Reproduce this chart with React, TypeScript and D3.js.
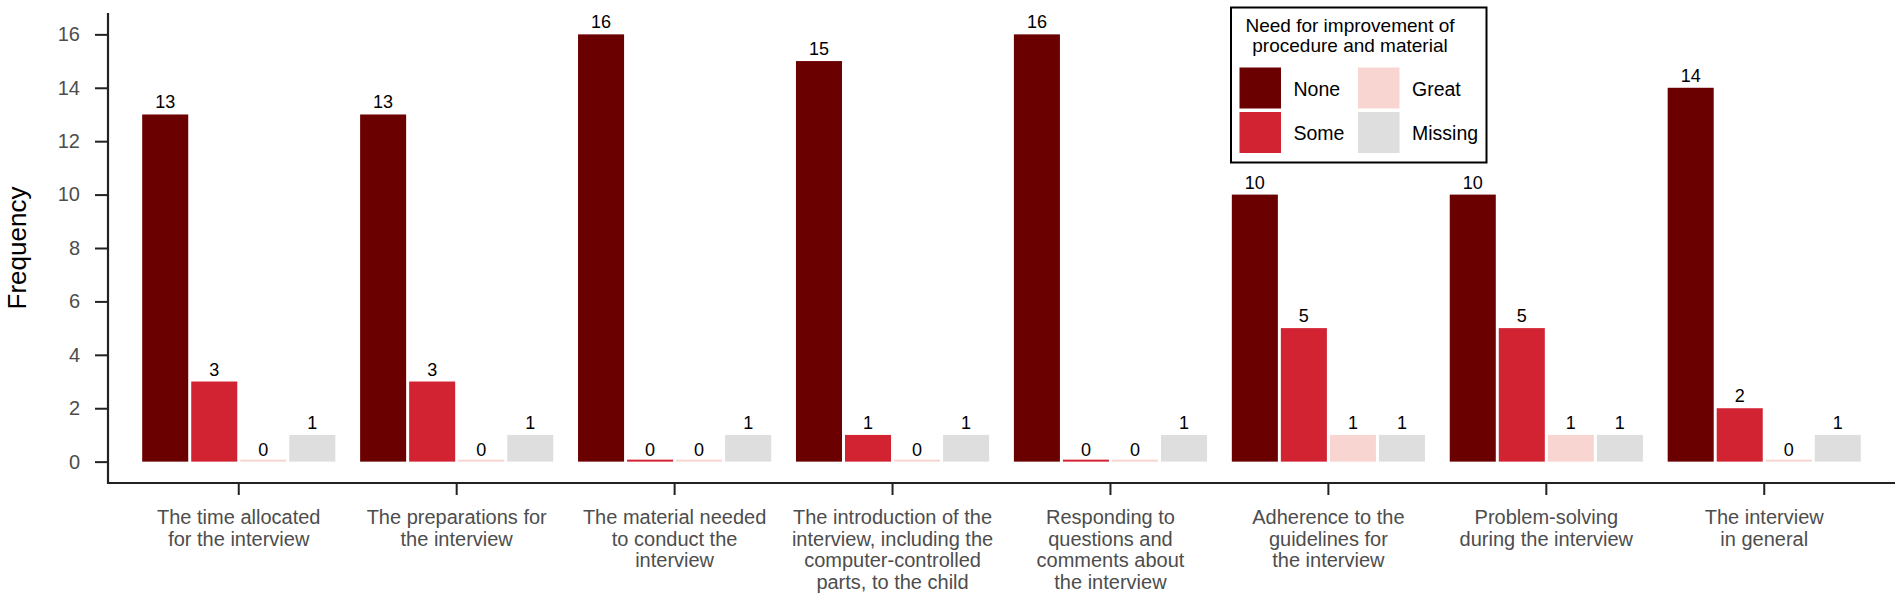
import React, { useEffect, useRef } from 'react';
import * as d3 from 'd3';

// categories (line-broken the way the figure shows them)
const categories = [
  ['The time allocated', 'for the interview'],
  ['The preparations for', 'the interview'],
  ['The material needed', 'to conduct the', 'interview'],
  ['The introduction of the', 'interview, including the', 'computer-controlled', 'parts, to the child'],
  ['Responding to', 'questions and', 'comments about', 'the interview'],
  ['Adherence to the', 'guidelines for', 'the interview'],
  ['Problem-solving', 'during the interview'],
  ['The interview', 'in general'],
];

const levels = ['None', 'Some', 'Great', 'Missing'];
const levelColors = ['#6b0000', '#d22333', '#f8d5d0', '#dedede'];

const noneValues = [13, 13, 16, 15, 16, 10, 10, 14];
const someValues = [3, 3, 0, 1, 0, 5, 5, 2];
const greatValues = [0, 0, 0, 0, 0, 1, 1, 0];
const missingValues = [1, 1, 1, 1, 1, 1, 1, 1];

const yTicks = [0, 2, 4, 6, 8, 10, 12, 14, 16];

const FONT = '"Liberation Sans", Arial, sans-serif';

const App = () => {
  const ref = useRef<SVGSVGElement>(null);

  useEffect(() => {
    const svg = d3.select(ref.current);
    svg.selectAll('*').remove();

    const left = 108, right = 1895, top = 13, bottom = 483;
    const series = [noneValues, someValues, greatValues, missingValues];

    const x = d3.scalePoint<number>()
      .domain(d3.range(categories.length))
      .range([left, right])
      .padding(0.6);

    const groupW = x.step() * 0.9;
    const sub = d3.scaleBand<number>()
      .domain(d3.range(levels.length))
      .range([-groupW / 2, groupW / 2]);

    const y = d3.scaleLinear().domain([-0.8, 16.8]).range([bottom, top]);

    // bars
    series.forEach((vals, s) => {
      const g = svg.append('g');
      vals.forEach((v, i) => {
        const bx = x(i)! + sub(s)! + 1.5;
        const bw = sub.bandwidth() - 3;
        const h = Math.max(y(0) - y(v), 2);
        g.append('rect')
          .attr('x', bx)
          .attr('y', y(0) - h)
          .attr('width', bw)
          .attr('height', h)
          .attr('fill', levelColors[s]);
        g.append('text')
          .attr('x', bx + bw / 2)
          .attr('y', y(v) - 6)
          .attr('text-anchor', 'middle')
          .attr('font-family', FONT)
          .attr('font-size', 18)
          .attr('fill', '#000')
          .text(v);
      });
    });

    // y axis
    const ya = svg.append('g')
      .attr('transform', `translate(${left},0)`)
      .call(d3.axisLeft(y).tickValues(yTicks).tickSize(13).tickPadding(15));
    ya.select('.domain').remove();
    ya.selectAll('.tick line').attr('stroke', '#222').attr('stroke-width', 2);
    ya.selectAll('.tick text')
      .attr('font-family', FONT).attr('font-size', 20).attr('fill', '#4d4d4d');
    svg.append('line')
      .attr('x1', left).attr('x2', left).attr('y1', top).attr('y2', bottom + 1)
      .attr('stroke', '#222').attr('stroke-width', 2.2);

    // x axis
    svg.append('line')
      .attr('x1', left - 1).attr('x2', right).attr('y1', bottom).attr('y2', bottom)
      .attr('stroke', '#222').attr('stroke-width', 2.2);
    categories.forEach((lines, i) => {
      svg.append('line')
        .attr('x1', x(i)!).attr('x2', x(i)!).attr('y1', bottom).attr('y2', bottom + 12)
        .attr('stroke', '#222').attr('stroke-width', 2);
      const t = svg.append('text')
        .attr('text-anchor', 'middle')
        .attr('font-family', FONT)
        .attr('font-size', 20)
        .attr('fill', '#4d4d4d');
      lines.forEach((ln, k) => {
        t.append('tspan').attr('x', x(i)!).attr('y', 524 + k * 21.7).text(ln);
      });
    });

    // y title
    svg.append('text')
      .attr('transform', `translate(26,${(top + bottom) / 2}) rotate(-90)`)
      .attr('text-anchor', 'middle')
      .attr('font-family', FONT)
      .attr('font-size', 26)
      .attr('fill', '#000')
      .text('Frequency');

    // legend
    const lg = svg.append('g');
    lg.append('rect')
      .attr('x', 1231).attr('y', 7.5).attr('width', 255.5).attr('height', 155)
      .attr('fill', '#fff').attr('stroke', '#000').attr('stroke-width', 2);
    const title = lg.append('text')
      .attr('text-anchor', 'middle')
      .attr('font-family', FONT).attr('font-size', 19).attr('fill', '#000');
    ['Need for improvement of', 'procedure and material'].forEach((ln, k) => {
      title.append('tspan').attr('x', 1350).attr('y', 31.5 + k * 20.5).text(ln);
    });
    levels.forEach((lv, s) => {
      const col = Math.floor(s / 2), row = s % 2;
      const kx = 1239.5 + col * 118.5, ky = 67.5 + row * 44.5;
      lg.append('rect')
        .attr('x', kx).attr('y', ky).attr('width', 41.5).attr('height', 41)
        .attr('fill', levelColors[s]);
      lg.append('text')
        .attr('x', kx + 54).attr('y', ky + 28)
        .attr('font-family', FONT).attr('font-size', 19.5).attr('fill', '#000')
        .text(lv);
    });
  }, []);

  return (
    <svg ref={ref} width={1902} height={600}
      style={{ position: 'absolute', left: 0, top: 0, background: '#fff' }} />
  );
};

export default App;
